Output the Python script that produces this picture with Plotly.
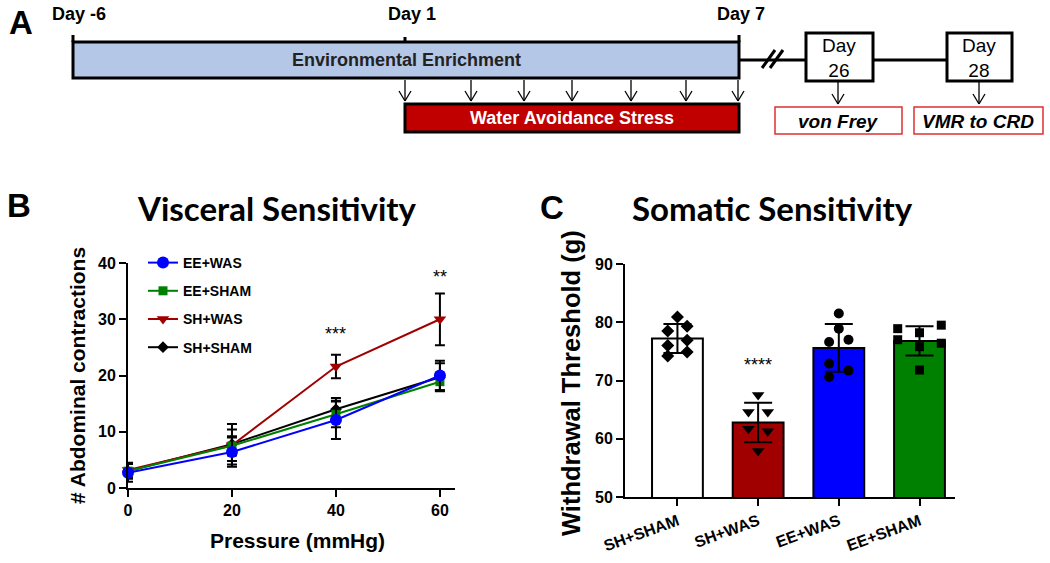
import plotly.graph_objects as go

W, H = 1050, 563

# ---------------- Data: panel B (visceral sensitivity) ----------------
pressure = [0, 20, 40, 60]
ee_was_mean = [2.7, 6.4, 12.1, 20.0]
ee_was_err = [1.6, 2.6, 3.4, 2.6]
ee_sham_mean = [3.0, 7.5, 13.1, 18.9]
ee_sham_err = [1.3, 1.7, 2.3, 1.5]
sh_was_mean = [3.2, 7.6, 21.6, 30.0]
sh_was_err = [1.3, 2.8, 2.1, 4.6]
sh_sham_mean = [3.0, 7.8, 14.0, 19.7]
sh_sham_err = [1.3, 3.6, 2.0, 2.5]
stars_b = ["***", "**"]
stars_b_x = [40, 60]
stars_b_y = [27.4, 37.5]

# ---------------- Data: panel C (somatic sensitivity) ----------------
groups = ["SH+SHAM", "SH+WAS", "EE+WAS", "EE+SHAM"]
group_means = [77.2, 62.8, 75.6, 76.8]
group_sd = [2.5, 3.4, 4.1, 2.5]
pts_sh_sham = [80.9, 79.3, 78.5, 76.9, 76.0, 74.9, 74.2]
pts_sh_was = [67.5, 64.6, 64.6, 61.7, 61.3, 57.9]
pts_ee_was = [81.5, 78.9, 76.6, 77.0, 72.9, 71.7, 70.6]
pts_ee_sham = [78.9, 79.5, 78.2, 77.0, 76.4, 75.8, 71.8]
stars_c = "****"
stars_c_y = 72.6

# ---------------- Data: panel A (timeline) ----------------
day_labels = ["Day -6", "Day 1", "Day 7"]
test_days = ["Day<br>26", "Day<br>28"]
test_names = ["<i>von Frey</i>", "<i>VMR to CRD</i>"]

# ---------------- Styles / positions ----------------
jit_sh_sham = [0.0, 0.12, -0.12, 0.12, -0.12, 0.12, -0.12]
jit_sh_was = [0.0, -0.12, 0.12, -0.12, 0.12, 0.0]
jit_ee_was = [0.0, 0.0, -0.12, 0.12, -0.12, 0.12, -0.12]
jit_ee_sham = [-0.27, 0.27, 0.0, -0.27, 0.27, 0.0, 0.0]
bar_colors = ["#ffffff", "#a00000", "#0000ff", "#008000"]

ARIAL = "Liberation Sans, Arial, sans-serif"
TITLEF = "Lato, Open Sans, sans-serif"


def X(px):
    return px / W


def Y(py):
    return 1 - py / H


fig = go.Figure()

# ---- Panel B traces (drawn so blue ends on top) ----
series = [
    ("SH+SHAM", sh_sham_mean, sh_sham_err, "black", "diamond", 9, 4),
    ("SH+WAS", sh_was_mean, sh_was_err, "#a00000", "triangle-down", 11, 3),
    ("EE+SHAM", ee_sham_mean, ee_sham_err, "#008000", "square", 9, 2),
    ("EE+WAS", ee_was_mean, ee_was_err, "#0000ff", "circle", 12, 1),
]
for name, m, e, col, sym, size, rank in series:
    fig.add_trace(go.Scatter(
        x=pressure, y=m, name=name, mode="lines+markers",
        line=dict(color=col, width=2),
        marker=dict(color=col, symbol=sym, size=size),
        error_y=dict(type="data", array=e, color="black", thickness=2, width=5),
        cliponaxis=False, legendrank=rank, legendgroup=name,
        xaxis="x", yaxis="y",
    ))

# ---- Panel C traces ----
fig.add_trace(go.Bar(
    x=[0, 1, 2, 3], y=group_means, width=0.63,
    marker=dict(color=bar_colors, line=dict(color="black", width=2)),
    error_y=dict(type="data", array=group_sd, color="black", thickness=2, width=14),
    showlegend=False, xaxis="x2", yaxis="y2",
))
pts_all = [
    (0, pts_sh_sham, jit_sh_sham, "diamond", 10),
    (1, pts_sh_was, jit_sh_was, "triangle-down", 11),
    (2, pts_ee_was, jit_ee_was, "circle", 10),
    (3, pts_ee_sham, jit_ee_sham, "square", 9),
]
for i, vals, jit, sym, size in pts_all:
    fig.add_trace(go.Scatter(
        x=[i + j for j in jit], y=vals, mode="markers",
        marker=dict(color="black", symbol=sym, size=size),
        showlegend=False, cliponaxis=False, xaxis="x2", yaxis="y2",
    ))

axis_common = dict(
    showline=True, linecolor="black", linewidth=2, ticks="outside",
    ticklen=7, tickwidth=2, tickcolor="black", showgrid=False, zeroline=False,
    automargin=False,
    tickfont=dict(family=ARIAL, size=16, color="black", weight="bold"),
)

fig.update_layout(
    width=W, height=H, autosize=False,
    margin=dict(l=0, r=0, t=0, b=0, pad=0, autoexpand=False),
    paper_bgcolor="white", plot_bgcolor="rgba(0,0,0,0)",
    xaxis=dict(domain=[X(128), X(455)], range=[0, 62.9], tickvals=pressure,
               anchor="y", **axis_common),
    yaxis=dict(domain=[Y(488), Y(263)], range=[0, 40], dtick=10,
               anchor="x", **axis_common),
    xaxis2=dict(domain=[X(625), X(955)], range=[-0.65, 3.44], tickvals=[0, 1, 2, 3],
                ticktext=groups, tickangle=-20, anchor="y2", **axis_common),
    yaxis2=dict(domain=[Y(497), Y(264)], range=[50, 90], dtick=10,
                anchor="x2", **axis_common),
    showlegend=True,
    legend=dict(x=X(143), y=Y(247), xanchor="left", yanchor="top",
                bgcolor="rgba(0,0,0,0)", traceorder="grouped", tracegroupgap=7,
                font=dict(family=ARIAL, size=14, color="black", weight="bold")),
)

shapes = []
anns = []


def line(x0, y0, x1, y1, color="black", width=3):
    shapes.append(dict(type="line", xref="paper", yref="paper",
                       x0=X(x0), y0=Y(y0), x1=X(x1), y1=Y(y1),
                       line=dict(color=color, width=width)))


def rect(x0, y0, x1, y1, fill, color="black", width=3):
    shapes.append(dict(type="rect", xref="paper", yref="paper",
                       x0=X(x0), y0=Y(y0), x1=X(x1), y1=Y(y1),
                       fillcolor=fill, line=dict(color=color, width=width), layer="below"))


def arrow(x, y0, y1):
    line(x, y0, x, y1, width=1.3)
    line(x - 6, y1 - 10, x, y1, width=1.3)
    line(x + 6, y1 - 10, x, y1, width=1.3)


def text(x, y, s, size, color="black", family=ARIAL, weight="bold", anchor="center"):
    anns.append(dict(xref="paper", yref="paper", x=X(x), y=Y(y), text=s,
                     showarrow=False, xanchor=anchor, yanchor="middle",
                     font=dict(family=family, size=size, color=color, weight=weight)))


# ---- Panel A schematic ----
rect(73, 42, 739, 78, "#b4c7e7")
line(73, 35, 73, 42)
line(405, 37, 405, 42)
line(739, 35, 739, 42)
line(739, 60, 806, 60)
line(873, 60, 947, 60)
line(762, 68, 775, 50)
line(770, 68, 783, 50)
rect(405, 104, 739, 132, "#c00000")
for ax in [405, 471, 524, 572, 631, 686, 738]:
    arrow(ax, 80, 101)
rect(806, 33, 873, 81, "white")
rect(947, 33, 1012, 81, "white")
arrow(838, 82, 104)
arrow(979, 82, 104)
rect(775, 107, 902, 134, "white", color="#e03030", width=1.5)
rect(914, 107, 1043, 134, "white", color="#e03030", width=1.5)

for s, x in zip(day_labels, [79, 412, 741]):
    text(x, 14, s, 18)
text(406, 60, "Environmental Enrichment", 18, color="#222222")
text(572, 118, "Water Avoidance Stress", 18, color="white")
for s, x in zip(test_days, [839, 979]):
    text(x, 58, s, 19, weight="normal")
for s, x in zip(test_names, [838, 978]):
    text(x, 121, s, 19)

# panel letters and titles
text(21, 23, "A", 33)
text(19, 205, "B", 33)
text(552, 207, "C", 33)
text(277, 208, "Visceral Sensitivity", 33, family=TITLEF)
text(772, 208, "Somatic Sensitivity", 33, family=TITLEF)

# axis titles
text(297, 540, "Pressure (mmHg)", 21)
anns.append(dict(xref="paper", yref="paper", x=X(77), y=Y(376), text="# Abdominal contractions",
                 showarrow=False, textangle=-90, xanchor="center", yanchor="middle",
                 font=dict(family=ARIAL, size=21, color="black", weight="bold")))
anns.append(dict(xref="paper", yref="paper", x=X(571), y=Y(383), text="Withdrawal Threshold (g)",
                 showarrow=False, textangle=-90, xanchor="center", yanchor="middle",
                 font=dict(family=ARIAL, size=25.5, color="black", weight="bold")))

# significance stars (data coordinates)
for s, sx, sy in zip(stars_b, stars_b_x, stars_b_y):
    anns.append(dict(xref="x", yref="y", x=sx, y=sy, text=s, showarrow=False,
                     font=dict(family=ARIAL, size=18, color="black")))
anns.append(dict(xref="x2", yref="y2", x=1, y=stars_c_y, text=stars_c, showarrow=False,
                 font=dict(family=ARIAL, size=18, color="black")))

fig.update_layout(shapes=shapes, annotations=anns)
fig.write_html("out.html", config={"displayModeBar": False},
               post_script="document.body.style.margin='0';")
